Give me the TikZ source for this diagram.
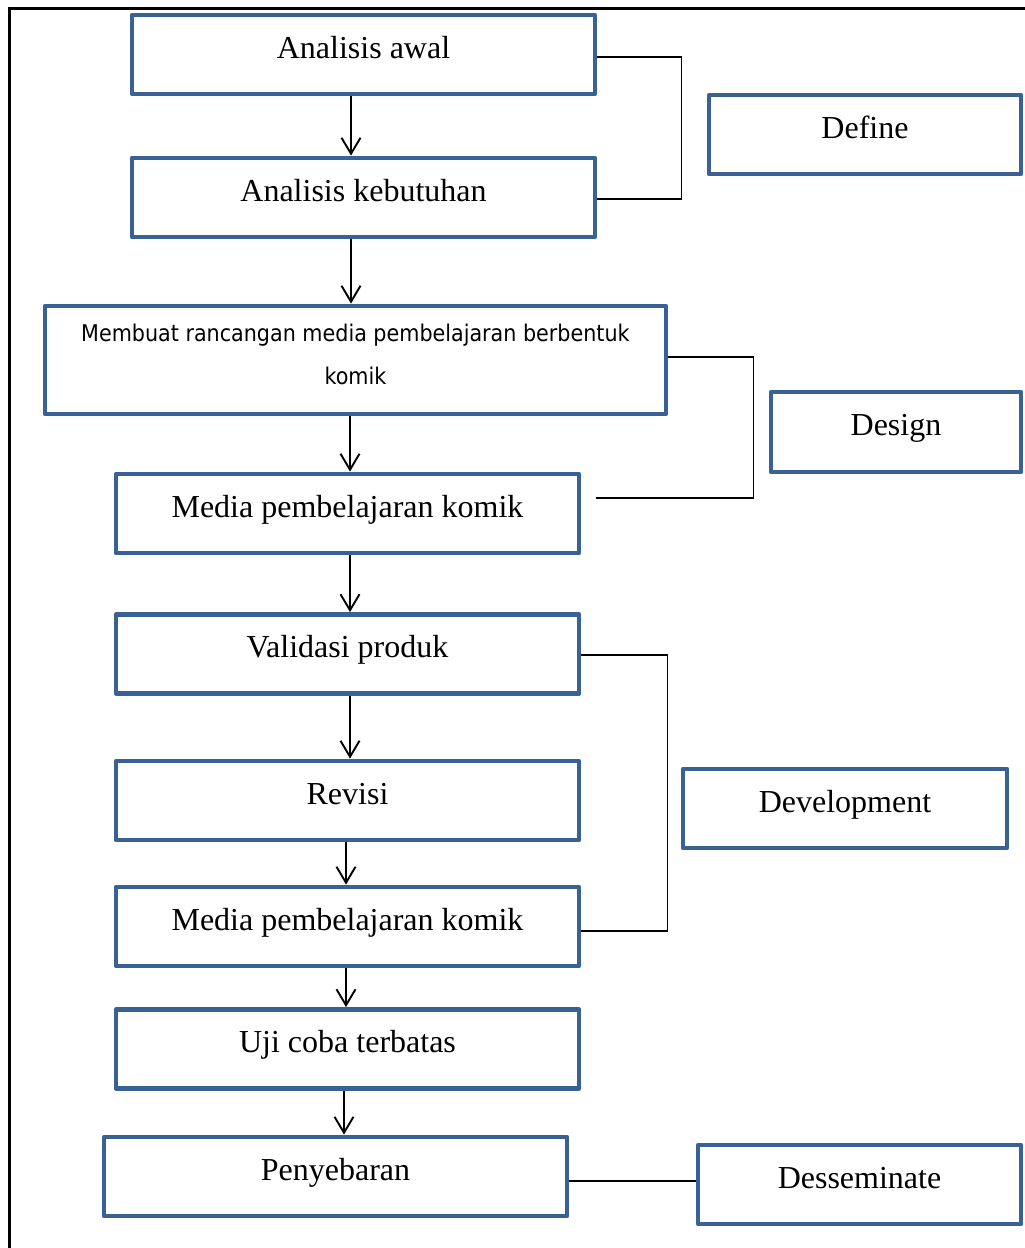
\documentclass[tikz,border=0pt]{standalone}
\usepackage{fontspec}
\setmainfont{Liberation Serif}
\newfontfamily\boxsans{DejaVu Sans Condensed}
\usepackage{tikz}
\usetikzlibrary{arrows.meta, positioning, calc}
\definecolor{boxBlue}{HTML}{3A6194}

\begin{document}
\begin{tikzpicture}[x=1pt, y=-1pt, >={Straight Barb[length=16pt, width=19pt]},
	flowbox/.style={draw=boxBlue, line width=4.8pt, line join=round, minimum height=79pt, inner sep=0pt,
		font=\fontsize{32}{38}\selectfont, text height=22pt, text depth=15pt},
	flow/.style={->, line width=1.9pt},
	bracket/.style={line width=1.5pt}]
	\useasboundingbox (0,0) rectangle (1025,1248);
	% page frame
	\draw[line width=3pt] (9,1248) -- (9,8) -- (1025,8);
	
	% main flow
	\node[flowbox, minimum width=463pt] (awal) at (363.5,54.5) {Analisis awal};
	\node[flowbox, minimum width=463pt] (kebutuhan) at (363.5,197.5) {Analisis kebutuhan};
	\node[flowbox, minimum width=621pt, minimum height=108pt, align=center, text height=, text depth=11pt,
		font=\boxsans\fontsize{23}{43}\selectfont] (rancangan) at (355.5,360)
		{Membuat rancangan media pembelajaran berbentuk\\komik};
	\node[flowbox, minimum width=463pt] (komikA) at (347.5,513.5) {Media pembelajaran komik};
	\node[flowbox, minimum width=463pt] (validasi) at (347.5,654) {Validasi produk};
	\node[flowbox, minimum width=463pt] (revisi) at (347.5,800.5) {Revisi};
	\node[flowbox, minimum width=463pt] (komikB) at (347.5,926.5) {Media pembelajaran komik};
	\node[flowbox, minimum width=463pt] (ujicoba) at (347.5,1049) {Uji coba terbatas};
	\node[flowbox, minimum width=463pt] (sebar) at (335.5,1176.5) {Penyebaran};
	
	% phases
	\node[flowbox, minimum width=312pt] (define) at (865,134.5) {Define};
	\node[flowbox, minimum width=250pt, minimum height=80pt] (design) at (896,432) {Design};
	\node[flowbox, minimum width=324pt] (develop) at (845,808.5) {Development};
	\node[flowbox, minimum width=323pt] (dissem) at (859.5,1184.5) {Desseminate};
	
	\draw[flow] ($(awal.south)+(-12.5,0)$) -- ($(kebutuhan.north)+(-12.5,0)$);
	\draw[flow] ($(kebutuhan.south)+(-12.5,0)$) -- ($(rancangan.north)+(-4.5,0)$);
	\draw[flow] ($(rancangan.south)+(-5.5,0)$) -- ($(komikA.north)+(2.5,0)$);
	\draw[flow] ($(komikA.south)+(2.5,0)$) -- ($(validasi.north)+(2.5,0)$);
	\draw[flow] ($(validasi.south)+(2.5,0)$) -- ($(revisi.north)+(2.5,0)$);
	\draw[flow] ($(revisi.south)+(-1.5,0)$) -- ($(komikB.north)+(-1.5,0)$);
	\draw[flow] ($(komikB.south)+(-1.5,0)$) -- ($(ujicoba.north)+(-1.5,0)$);
	\draw[flow] ($(ujicoba.south)+(-3.5,0)$) -- ($(sebar.north)+(8.5,0)$);
	
	% brackets to the phases
	\draw[bracket] ($(awal.east)+(0,2.5)$) -- ++(84,0) |- ($(kebutuhan.east)+(0,1.5)$);
	\draw[bracket] ($(rancangan.east)+(0,-3)$) -- ++(85,0) |- ($(komikA.east)+(15,-15.5)$);
	\draw[bracket] ($(validasi.east)+(0,1)$) -- ++(86,0) |- ($(komikB.east)+(0,4.5)$);
	\draw[bracket] ($(sebar.east)+(0,4.5)$) -- ($(dissem.west)+(0,-3.5)$);
\end{tikzpicture}
\end{document}
